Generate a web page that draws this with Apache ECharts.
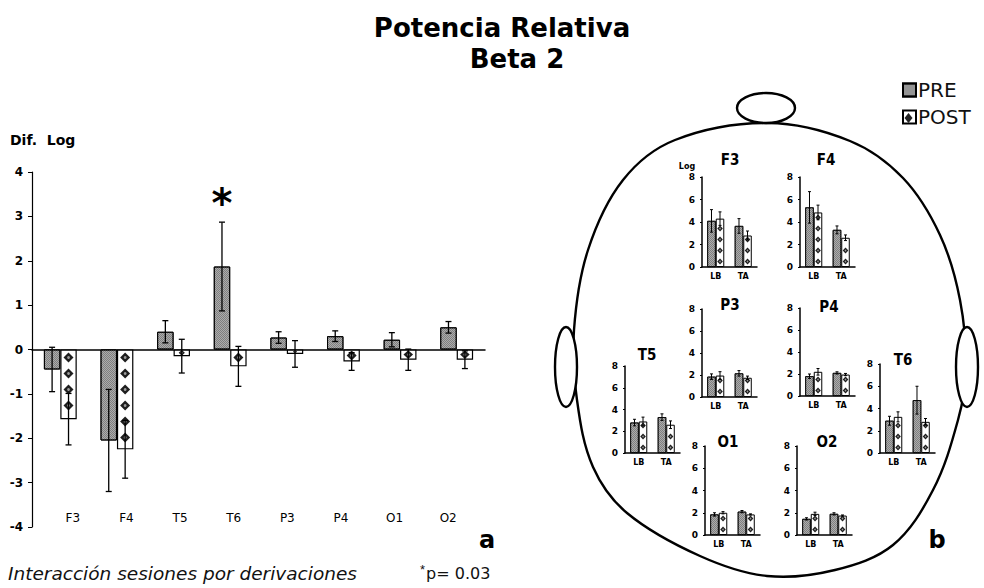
<!DOCTYPE html>
<html>
<head>
<meta charset="utf-8">
<script src="https://cdn.jsdelivr.net/npm/echarts@6/dist/echarts.min.js"></script>
<style>
  html, body { margin: 0; padding: 0; background: #fff; }
  #chart { width: 984px; height: 588px; }
</style>
</head>
<body>
<div id="chart"></div>
<script>
// ---- Panel a: difference of log relative power (Beta 2) per lead ----
const leads = ['F3', 'F4', 'T5', 'T6', 'P3', 'P4', 'O1', 'O2'];
const diffTicks = [-4, -3, -2, -1, 0, 1, 2, 3, 4];
const diffPre = [-0.45, -2.05, 0.40, 1.87, 0.27, 0.30, 0.22, 0.50];
const diffPreErr = [0.50, 1.15, 0.25, 1.00, 0.13, 0.12, 0.16, 0.13];
const diffPost = [-1.57, -2.25, -0.15, -0.38, -0.10, -0.27, -0.23, -0.23];
const diffPostErr = [0.58, 0.65, 0.38, 0.45, 0.30, 0.20, 0.24, 0.20];
const significant = [false, false, false, true, false, false, false, false];

// ---- Panel b: log power per lead, LB / TA sessions ----
const sessions = ['LB', 'TA'];
const logTicks = [0, 2, 4, 6, 8];
const logPreLB = [4.10, 5.30, 2.80, 2.90, 1.85, 1.80, 1.85, 1.45];
const logPreTA = [3.65, 3.30, 3.30, 4.75, 2.15, 2.10, 2.10, 1.90];
const logPostLB = [4.30, 4.85, 2.90, 3.25, 1.95, 2.20, 2.00, 1.90];
const logPostTA = [2.80, 2.60, 2.60, 2.80, 1.75, 1.95, 1.85, 1.75];
const logPreErrLB = [1.00, 1.40, 0.30, 0.40, 0.25, 0.20, 0.15, 0.10];
const logPreErrTA = [0.65, 0.35, 0.30, 1.25, 0.25, 0.10, 0.10, 0.10];
const logPostErrLB = [0.60, 0.65, 0.40, 0.45, 0.35, 0.30, 0.10, 0.15];
const logPostErrTA = [0.40, 0.25, 0.35, 0.30, 0.15, 0.10, 0.05, 0.05];

// Placement of each small panel on the head drawing (same order as leads)
const miniBoxes = [
  { left: 702, top: 177, height: 90, tx: 730, ty: 160 },  // F3
  { left: 800, top: 177, height: 90, tx: 826, ty: 160 },  // F4
  { left: 625, top: 366, height: 87, tx: 647, ty: 355 },  // T5
  { left: 880, top: 364, height: 89, tx: 903, ty: 360 },  // T6
  { left: 702, top: 309, height: 88, tx: 730, ty: 305 },  // P3
  { left: 800, top: 308, height: 88, tx: 829, ty: 307 },  // P4
  { left: 705, top: 446, height: 89, tx: 728, ty: 442 },  // O1
  { left: 797, top: 446, height: 89, tx: 827, ty: 442 }   // O2
];

const FONT = "'DejaVu Sans', sans-serif";
const COND = "'DejaVu Sans Condensed', 'DejaVu Sans', sans-serif";
const MAIN_BAR = 0.29;
const MINI_BAR = 0.31;

const preStyle = {
  color: '#7f7f7f',
  borderColor: '#000',
  borderWidth: 1,
  decal: {
    symbol: 'rect',
    symbolSize: 1,
    dashArrayX: [[1, 1], [0, 1, 1, 0]],
    dashArrayY: [1, 0],
    color: 'rgba(255,255,255,0.35)'
  }
};
const postStyle = { color: '#fff', borderColor: '#000', borderWidth: 1.2 };

// Error bars (with optional significance star) drawn through the axis scales
function errorBarItem(barFrac, capHalf, lw) {
  return function (params, api) {
    const idx = api.value(0), v = api.value(1), e = api.value(2), side = api.value(3), sig = api.value(4);
    const band = api.size([1, 0])[0];
    const cx = api.coord([idx, 0])[0] + side * band * barFrac / 2;
    const yHi = api.coord([idx, v + e])[1];
    const yLo = api.coord([idx, v - e])[1];
    const st = { stroke: '#000', lineWidth: lw };
    const children = [
      { type: 'line', shape: { x1: cx, y1: yHi, x2: cx, y2: yLo }, style: st },
      { type: 'line', shape: { x1: cx - capHalf, y1: yHi, x2: cx + capHalf, y2: yHi }, style: st },
      { type: 'line', shape: { x1: cx - capHalf, y1: yLo, x2: cx + capHalf, y2: yLo }, style: st }
    ];
    if (sig) {
      children.push({
        type: 'text',
        style: { x: cx, y: yHi - 19, text: '*', fill: '#000', font: 'bold 40px ' + FONT, align: 'center', verticalAlign: 'middle' }
      });
    }
    return { type: 'group', children: children };
  };
}

// Diamond markers stacked inside the POST bars
function diamondItem(barFrac, size, step) {
  return function (params, api) {
    const idx = api.value(0), v = api.value(1);
    const band = api.size([1, 0])[0];
    const w = band * barFrac;
    const cx = api.coord([idx, 0])[0] + w / 2;
    const y0 = api.coord([idx, 0])[1];
    const y1 = api.coord([idx, v])[1];
    const len = Math.abs(y1 - y0);
    const dir = y1 > y0 ? 1 : -1;
    const dw = Math.min(w * 0.66, size);
    const children = [];
    function diamond(cy, h, ww) {
      children.push({
        type: 'polygon',
        shape: { points: [[cx, cy - h / 2], [cx + ww / 2, cy], [cx, cy + h / 2], [cx - ww / 2, cy]] },
        style: { fill: '#1e1e1e' }
      });
      children.push({
        type: 'circle',
        shape: { cx: cx, cy: cy, r: Math.max(0.6, ww * 0.14) },
        style: { fill: '#9a9a9a' }
      });
    }
    if (len < step) {
      const h = Math.min(size, len * 0.85);
      if (h > 1.5) diamond(y0 + dir * len / 2, h, Math.min(dw, h * 1.1));
    } else {
      for (let d = step / 2; d + size / 2 <= len + 1; d += step) {
        diamond(y0 + dir * d, size, dw);
      }
    }
    return { type: 'group', children: children };
  };
}

const grids = [];
const xAxes = [];
const yAxes = [];
const series = [];
const graphics = [];

// ---- main panel ----
grids.push({ left: 32, top: 172, width: 453, height: 355 });
grids.push({ left: 46, top: 172, width: 429, height: 355 });   // lead names row
xAxes.push({
  type: 'category', gridIndex: 0, data: leads,
  axisLine: { onZero: true, lineStyle: { color: '#000', width: 1.5 } },
  axisTick: { show: false }, axisLabel: { show: false }
});
xAxes.push({
  type: 'category', gridIndex: 1, data: leads, position: 'bottom',
  axisLine: { show: false }, axisTick: { show: false },
  axisLabel: { inside: true, margin: 3, color: '#000', fontSize: 12, fontFamily: FONT }
});
yAxes.push({
  type: 'value', gridIndex: 0, min: diffTicks[0], max: diffTicks[diffTicks.length - 1], interval: 1,
  axisLine: { show: true, lineStyle: { color: '#000', width: 1.2 } },
  axisTick: { show: true, length: 4, lineStyle: { color: '#000' } },
  splitLine: { show: false },
  axisLabel: { color: '#000', fontSize: 12, fontWeight: 'bold', fontFamily: FONT, margin: 9 }
});
yAxes.push({ type: 'value', gridIndex: 1, show: false, min: -4, max: 4 });

series.push({ type: 'bar', name: 'PRE', xAxisIndex: 0, yAxisIndex: 0, data: diffPre, barWidth: '29%', barGap: '0%', itemStyle: preStyle, z: 2 });
series.push({ type: 'bar', name: 'POST', xAxisIndex: 0, yAxisIndex: 0, data: diffPost, barWidth: '29%', barGap: '0%', itemStyle: postStyle, z: 2 });
series.push({
  type: 'custom', xAxisIndex: 0, yAxisIndex: 0, z: 3, silent: true,
  renderItem: diamondItem(MAIN_BAR, 10, 16),
  data: diffPost.map((v, i) => [i, v])
});
series.push({
  type: 'custom', xAxisIndex: 0, yAxisIndex: 0, z: 4, silent: true,
  renderItem: errorBarItem(MAIN_BAR, 3, 1.3),
  data: diffPre.map((v, i) => [i, v, diffPreErr[i], -1, significant[i] ? 1 : 0])
    .concat(diffPost.map((v, i) => [i, v, diffPostErr[i], 1, 0]))
});

// ---- small panels on the head ----
miniBoxes.forEach((b, k) => {
  const gi = grids.length;
  grids.push({ left: b.left, top: b.top, width: 55, height: b.height });
  xAxes.push({
    type: 'category', gridIndex: gi, data: sessions,
    axisLine: { lineStyle: { color: '#000', width: 1.5 } },
    axisTick: { show: false },
    axisLabel: { color: '#000', fontSize: 8, fontWeight: 'bold', fontFamily: FONT, margin: 5 }
  });
  yAxes.push({
    type: 'value', gridIndex: gi, min: logTicks[0], max: logTicks[logTicks.length - 1], interval: 2,
    axisLine: { show: true, lineStyle: { color: '#000', width: 1.5 } },
    axisTick: { show: true, length: 2, lineStyle: { color: '#000' } },
    splitLine: { show: false },
    axisLabel: { color: '#000', fontSize: 9, fontWeight: 'bold', fontFamily: FONT, margin: 7 }
  });
  const pre = [logPreLB[k], logPreTA[k]];
  const post = [logPostLB[k], logPostTA[k]];
  const preErr = [logPreErrLB[k], logPreErrTA[k]];
  const postErr = [logPostErrLB[k], logPostErrTA[k]];
  series.push({ type: 'bar', name: 'PRE', xAxisIndex: gi, yAxisIndex: gi, data: pre, barWidth: '31%', barGap: '0%', itemStyle: Object.assign({}, preStyle, { borderWidth: 0.8 }), z: 2 });
  series.push({ type: 'bar', name: 'POST', xAxisIndex: gi, yAxisIndex: gi, data: post, barWidth: '31%', barGap: '0%', itemStyle: { color: '#fff', borderColor: '#000', borderWidth: 1 }, z: 2 });
  series.push({
    type: 'custom', xAxisIndex: gi, yAxisIndex: gi, z: 3, silent: true,
    renderItem: diamondItem(MINI_BAR, 6, 11),
    data: post.map((v, i) => [i, v])
  });
  series.push({
    type: 'custom', xAxisIndex: gi, yAxisIndex: gi, z: 4, silent: true,
    renderItem: errorBarItem(MINI_BAR, 1.5, 1),
    data: pre.map((v, i) => [i, v, preErr[i], -1, 0]).concat(post.map((v, i) => [i, v, postErr[i], 1, 0]))
  });
  graphics.push({
    type: 'text', x: b.tx, y: b.ty, z: 20,
    style: { text: leads[k], fill: '#000', font: 'bold 15px ' + COND, align: 'center', verticalAlign: 'middle' }
  });
});

// ---- head outline ----
const headOutline = [
  [768, 123], [850, 141], [903, 178], [940, 235], [960, 300], [966, 370], [958, 420],
  [933, 490], [893, 545], [835, 570], [767, 576], [700, 556], [627, 513], [593, 467],
  [577, 400], [574, 330], [588, 250], [623, 180], [675, 140]
];
graphics.push({
  type: 'polygon', z: 1, silent: true,
  shape: { points: headOutline, smooth: 0.35 },
  style: { fill: 'none', stroke: '#000', lineWidth: 2.4 }
});
graphics.push({
  type: 'ellipse', z: 2, silent: true,
  shape: { cx: 766, cy: 108, rx: 29, ry: 15 },
  style: { fill: '#fff', stroke: '#000', lineWidth: 2.4 }
});
graphics.push({
  type: 'ellipse', z: 2, silent: true,
  shape: { cx: 566, cy: 367, rx: 11, ry: 40 },
  style: { fill: '#fff', stroke: '#000', lineWidth: 2.4 }
});
graphics.push({
  type: 'ellipse', z: 2, silent: true,
  shape: { cx: 967, cy: 367, rx: 11, ry: 40 },
  style: { fill: '#fff', stroke: '#000', lineWidth: 2.4 }
});

// ---- texts ----
graphics.push({ type: 'text', x: 502, y: 28, z: 20, style: { text: 'Potencia Relativa', fill: '#000', font: 'bold 26px ' + FONT, align: 'center', verticalAlign: 'middle' } });
graphics.push({ type: 'text', x: 517, y: 59, z: 20, style: { text: 'Beta 2', fill: '#000', font: 'bold 26px ' + FONT, align: 'center', verticalAlign: 'middle' } });
graphics.push({ type: 'text', x: 10, y: 140, z: 20, style: { text: 'Dif.  Log', fill: '#000', font: 'bold 14px ' + FONT, align: 'left', verticalAlign: 'middle' } });
graphics.push({ type: 'text', x: 687, y: 166, z: 20, style: { text: 'Log', fill: '#000', font: 'bold 8px ' + FONT, align: 'center', verticalAlign: 'middle' } });
graphics.push({ type: 'text', x: 487, y: 540, z: 20, style: { text: 'a', fill: '#000', font: 'bold 24px ' + FONT, align: 'center', verticalAlign: 'middle' } });
graphics.push({ type: 'text', x: 937, y: 540, z: 20, style: { text: 'b', fill: '#000', font: 'bold 24px ' + FONT, align: 'center', verticalAlign: 'middle' } });
graphics.push({ type: 'text', x: 8, y: 573, z: 20, style: { text: 'Interacción sesiones por derivaciones', fill: '#111', font: 'italic 18.5px ' + FONT, align: 'left', verticalAlign: 'middle' } });
graphics.push({
  type: 'text', x: 420, y: 573, z: 20,
  style: {
    text: '{s|*}p= 0.03', fill: '#111', font: '16px ' + FONT, align: 'left', verticalAlign: 'middle',
    rich: { s: { fontSize: 13, verticalAlign: 'top', padding: [0, 1, 8, 0], fill: '#111' } }
  }
});
// diamond drawn into the POST legend swatch
graphics.push({
  type: 'polygon', z: 30, silent: true,
  shape: { points: [[908.5, 113], [912.5, 118], [908.5, 123], [904.5, 118]] },
  style: { fill: '#222' }
});

const option = {
  backgroundColor: '#fff',
  animation: false,
  grid: grids,
  xAxis: xAxes,
  yAxis: yAxes,
  legend: {
    data: ['PRE', 'POST'],
    orient: 'vertical', left: 902, top: 80, padding: 0,
    icon: 'rect', itemWidth: 13, itemHeight: 13, itemGap: 7,
    selectedMode: false,
    textStyle: { fontSize: 20, color: '#111', fontFamily: FONT, padding: [0, 0, 0, -3] }
  },
  graphic: graphics,
  series: series
};

const chart = echarts.init(document.getElementById('chart'), null, { renderer: 'svg' });
chart.setOption(option);
</script>
</body>
</html>
